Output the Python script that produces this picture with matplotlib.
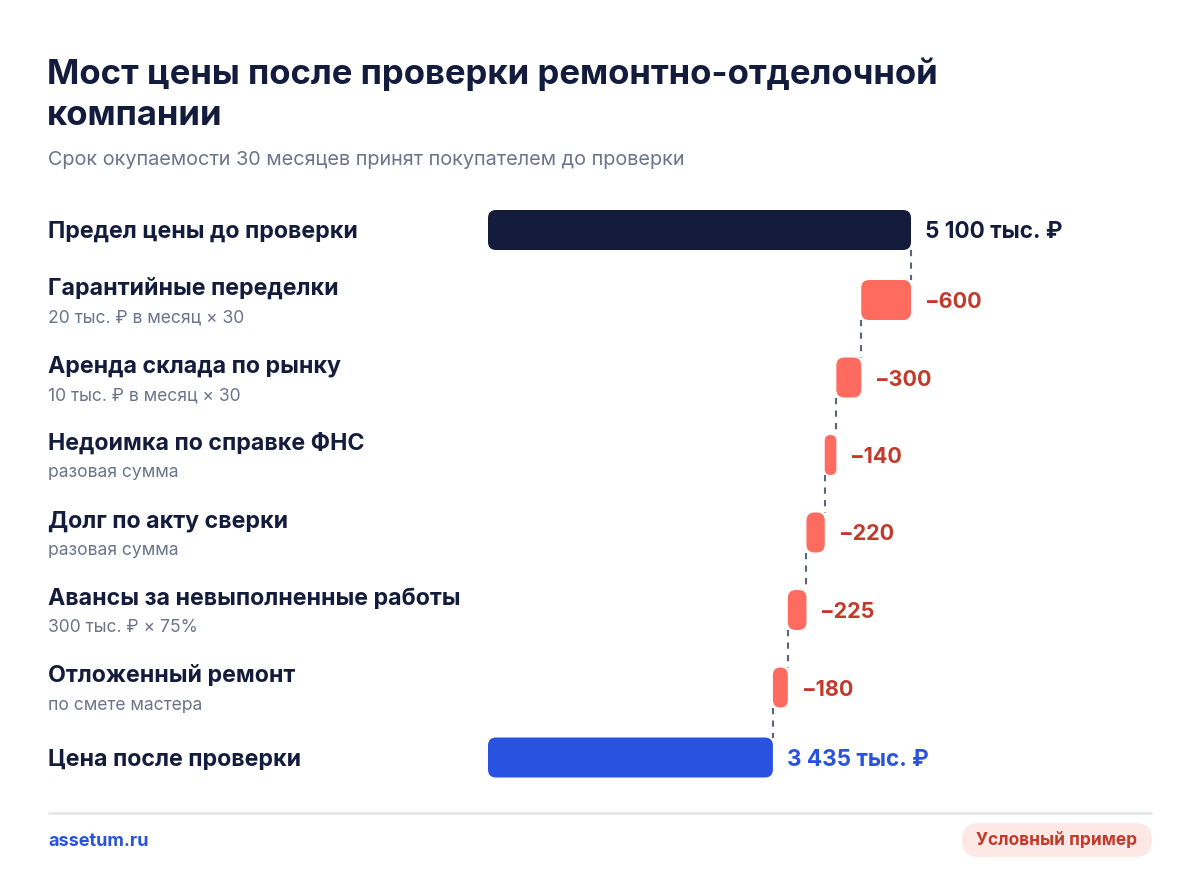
import matplotlib
matplotlib.use("Agg")
import matplotlib.pyplot as plt
from matplotlib.patches import FancyBboxPatch

plt.rcParams["font.family"] = ["Inter", "DejaVu Sans"]

# data
labels = [
    "Предел цены до проверки",
    "Гарантийные переделки",
    "Аренда склада по рынку",
    "Недоимка по справке ФНС",
    "Долг по акту сверки",
    "Авансы за невыполненные работы",
    "Отложенный ремонт",
    "Цена после проверки",
]
notes = [
    "",
    "20 тыс. ₽ в месяц × 30",
    "10 тыс. ₽ в месяц × 30",
    "разовая сумма",
    "разовая сумма",
    "300 тыс. ₽ × 75%",
    "по смете мастера",
    "",
]
start_value = 5100
changes = [-600, -300, -140, -220, -225, -180]

NAVY = "#141c3d"
CORAL = "#ff6b5f"
RED_TXT = "#c23a2b"
BLUE = "#2a52e0"
GRAY = "#6b7489"
DASH = "#5b6579"

W, H = 1200, 891
fig = plt.figure(figsize=(W / 100, H / 100), dpi=100)
fig.patch.set_facecolor("white")


def ftext(x, y, s, **kw):
    # small downward nudge: matplotlib's centre sits a bit high for this font
    return fig.text(x / W, 1 - (y + 2) / H, s, **kw)


# title block
ftext(47, 72, "Мост цены после проверки ремонтно-отделочной", fontsize=25,
      fontweight="bold", color=NAVY, va="center")
ftext(47, 114, "компании", fontsize=25, fontweight="bold", color=NAVY, va="center")
ftext(48, 158, "Срок окупаемости 30 месяцев принят покупателем до проверки",
      fontsize=14.3, color=GRAY, va="center")

# bar axes: x in thousand rubles, y in pixels
x0_px = 488
ppu = 423 / start_value  # pixels per unit
ax = fig.add_axes([0, 0, 1, 1])
ax.set_xlim(-x0_px / ppu, (W - x0_px) / ppu)
ax.set_ylim(H, 0)
ax.axis("off")

# row centres
centers = [230.0]
for i in range(1, len(labels)):
    step = 62.5 + 7.5 * (bool(notes[i - 1]) + bool(notes[i]))
    centers.append(centers[-1] + step)

bar_h = 40
radius_px = 8


def rbar(left, right, yc, color):
    width = right - left
    r = min(radius_px / ppu, width / 2)
    patch = FancyBboxPatch((left, yc - bar_h / 2), width, bar_h,
                           boxstyle=f"round,pad=0,rounding_size={r}",
                           mutation_aspect=ppu, facecolor=color,
                           edgecolor="none")
    ax.add_patch(patch)


# waterfall
level = start_value
rbar(0, level, centers[0], NAVY)
ax.annotate(f"{start_value:,} тыс. ₽".replace(",", " "), (level, centers[0]),
            xytext=(14, -2), textcoords="offset pixels", va="center",
            fontsize=16.2, fontweight="bold", color=NAVY)

for i, ch in enumerate(changes, start=1):
    new_level = level + ch
    yc = centers[i]
    ax.plot([level, level], [centers[i - 1] + bar_h / 2, yc - bar_h / 2],
            color=DASH, lw=1.5, ls=(0, (3, 3)))
    rbar(new_level, level, yc, CORAL)
    ax.annotate(f"−{abs(ch)}", (level, yc), xytext=(13, -2),
                textcoords="offset pixels", va="center", fontsize=15.5,
                fontweight="bold", color=RED_TXT)
    level = new_level

final = level
ax.plot([final, final], [centers[-2] + bar_h / 2, centers[-1] - bar_h / 2],
        color=DASH, lw=1.5, ls=(0, (3, 3)))
rbar(0, final, centers[-1], BLUE)
ax.annotate(f"{final:,} тыс. ₽".replace(",", " "), (final, centers[-1]),
            xytext=(14, -2), textcoords="offset pixels", va="center",
            fontsize=16.2, fontweight="bold", color=BLUE)

# row labels
for lab, note, yc in zip(labels, notes, centers):
    if note:
        ftext(48, yc - 13, lab, fontsize=16.7, fontweight="bold", color=NAVY, va="center")
        ftext(48, yc + 16, note, fontsize=12.6, color=GRAY, va="center")
    else:
        ftext(48, yc, lab, fontsize=16.7, fontweight="bold", color=NAVY, va="center")

# footer
ax.plot([-(x0_px - 48) / ppu, (1152 - x0_px) / ppu], [813, 813],
        color="#e4e7eb", lw=2, solid_capstyle="butt")
ftext(48, 840, "assetum.ru", fontsize=13, fontweight="bold", color=BLUE, va="center")
badge = FancyBboxPatch((962 / W, 1 - 857 / H), 190 / W, 34 / H,
                       boxstyle="round,pad=0,rounding_size=0.014",
                       mutation_aspect=W / H, transform=fig.transFigure,
                       facecolor="#fde8e5", edgecolor="none")
fig.patches.append(badge)
ftext(1057, 839, "Условный пример", fontsize=12.5, fontweight="bold",
      color=RED_TXT, va="center", ha="center")

fig.savefig("out.png", dpi=100)
